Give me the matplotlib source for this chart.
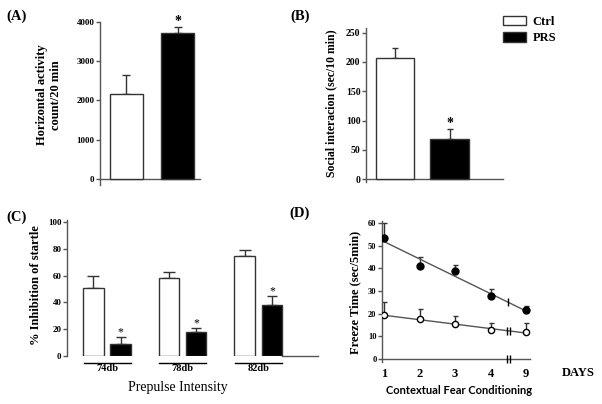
import numpy as np
import matplotlib
matplotlib.use("Agg")
import matplotlib.pyplot as plt

plt.rcParams['font.family'] = ['Liberation Serif', 'DejaVu Serif']
plt.rcParams['font.weight'] = 'bold'

groups = ['Ctrl', 'PRS']

# (A) horizontal activity
act_mean = [2170, 3720]
act_err = [480, 150]
act_ticks = [0, 1000, 2000, 3000, 4000]

# (B) social interaction
soc_mean = [206, 69]
soc_err = [17, 17]
soc_ticks = [0, 50, 100, 150, 200, 250]

# (C) prepulse inhibition
ppi_labels = ['74db', '78db', '82db']
ppi_ctrl = [51, 58, 75]
ppi_ctrl_err = [9, 5, 4]
ppi_prs = [9, 18, 38]
ppi_prs_err = [5, 3, 7]
ppi_ticks = [0, 20, 40, 60, 80, 100]

# (D) contextual fear conditioning
days = ['1', '2', '3', '4', '9']
fear_prs = [53.3, 41.0, 38.8, 27.8, 21.6]
fear_prs_err = [6.5, 4.0, 2.5, 3.0, 1.7]
fear_ctrl = [19.3, 17.6, 15.4, 12.8, 11.9]
fear_ctrl_err = [5.7, 4.4, 3.6, 3.2, 4.0]
fear_ticks = [0, 10, 20, 30, 40, 50, 60]

W, H = 602, 404
fig = plt.figure(figsize=(W / 100, H / 100), dpi=100)
axc = '#555555'


def px_axes(l, t, r, b):
    return fig.add_axes([l / W, 1 - b / H, (r - l) / W, (b - t) / H])


def style(ax, size):
    for s in ['top', 'right']:
        ax.spines[s].set_visible(False)
    for s in ['left', 'bottom']:
        ax.spines[s].set_color(axc)
        ax.spines[s].set_linewidth(1)
    ax.tick_params(axis='y', direction='out', length=3, width=1, color=axc,
                   labelsize=size, pad=1)
    ax.tick_params(axis='x', length=0)


def ftext(x, y, s, **kw):
    fig.text(x / W, 1 - y / H, s, **kw)


# ---------- (A)
axA = px_axes(100, 22, 200, 185)
xa = np.arange(len(groups))
axA.errorbar(xa, act_mean, yerr=[np.zeros(2), act_err], fmt='none', ecolor='#333333',
             elinewidth=1, capsize=3, capthick=1, zorder=2)
axA.bar(xa, act_mean, width=0.64, color=['white', 'black'], edgecolor='#333333',
        linewidth=1, zorder=3)
axA.set_xlim(-0.515, 1.43)
axA.set_ylim(-153, 4000)
axA.spines['bottom'].set_position(('data', 0))
axA.set_yticks(act_ticks)
axA.set_xticks([])
style(axA, 6.5)
axA.annotate('*', (xa[1], act_mean[1] + act_err[1]), xytext=(0, -1),
             textcoords='offset points', ha='center', va='bottom', fontsize=10,
             annotation_clip=False)
ftext(49, 95, 'Horizontal activity\ncount/20 min', rotation=90, ha='center',
      va='center', fontsize=9, multialignment='center')
ftext(17, 16, '(A)', ha='center', va='center', fontsize=10.5)

# ---------- (B)
axB = px_axes(366, 28, 503, 182)
xb = np.arange(len(groups))
axB.errorbar(xb, soc_mean, yerr=[np.zeros(2), soc_err], fmt='none', ecolor='#333333',
             elinewidth=1, capsize=2.5, capthick=1, zorder=2)
barsB = axB.bar(xb, soc_mean, width=0.70, color=['white', 'black'], edgecolor='#333333',
                linewidth=1, zorder=3)
axB.set_xlim(-0.532, 1.98)
axB.set_ylim(-5, 258)
axB.spines['bottom'].set_position(('data', 0))
axB.set_yticks(soc_ticks)
axB.set_xticks([])
style(axB, 7)
axB.annotate('*', (xb[1], soc_mean[1] + soc_err[1]), xytext=(0, -1),
             textcoords='offset points', ha='center', va='bottom', fontsize=10)
ftext(331, 103, 'Social interacion (sec/10 min)', rotation=90, ha='center',
      va='center', fontsize=8.5)
ftext(300, 16, '(B)', ha='center', va='center', fontsize=10.5)
fig.legend(barsB.patches, groups, loc='upper left', bbox_to_anchor=(503 / W, 1 - 16 / H),
           frameon=False, fontsize=9, handlelength=1.85, handleheight=0.75,
           handletextpad=0.5, labelspacing=0.35, borderpad=0, borderaxespad=0)

# ---------- (C)
axC = px_axes(67, 220, 318, 356)
xc = np.arange(len(ppi_labels))
off, bw = 0.18, 0.27
axC.errorbar(xc - off, ppi_ctrl, yerr=[np.zeros(3), ppi_ctrl_err], fmt='none',
             ecolor='#333333', elinewidth=1, capsize=4, capthick=1, zorder=2)
axC.errorbar(xc + off, ppi_prs, yerr=[np.zeros(3), ppi_prs_err], fmt='none',
             ecolor='#333333', elinewidth=1, capsize=3.5, capthick=1, zorder=2)
axC.bar(xc - off, ppi_ctrl, width=bw, color='white', edgecolor='#333333', linewidth=1,
        zorder=3)
axC.bar(xc + off, ppi_prs, width=bw, color='black', edgecolor='#333333', linewidth=1,
        zorder=3)
axC.set_xlim(-0.53, 2.79)
axC.set_ylim(0, 101.5)
axC.set_yticks(ppi_ticks)
style(axC, 6.5)
axC.spines['bottom'].set_bounds(xc[-1] + off + bw / 2, 2.79)
axC.set_xticks(xc)
axC.set_xticklabels(ppi_labels, fontsize=7.5)
axC.tick_params(axis='x', pad=6)
for g in xc:
    axC.plot([g - 0.31, g + 0.31], [-0.052, -0.052], color='black', lw=1,
             transform=axC.get_xaxis_transform(), clip_on=False)
for g in xc:
    axC.annotate('*', (g + off, ppi_prs[g] + ppi_prs_err[g]), xytext=(0, -1),
                 textcoords='offset points', ha='center', va='bottom', fontsize=8.5,
                 fontweight='normal')
ftext(36, 285, '% Inhibition of startle', rotation=90, ha='center', va='center',
      fontsize=9)
ftext(178, 388, 'Prepulse Intensity', ha='center', va='center', fontsize=10,
      fontweight='normal')
ftext(17, 217, '(C)', ha='center', va='center', fontsize=10.5)

# ---------- (D)
axD = px_axes(382, 221, 530, 362)
xd = np.arange(1, len(days) + 1)
axD.errorbar(xd, fear_prs, yerr=[np.zeros(5), fear_prs_err], fmt='none',
             ecolor='#333333', elinewidth=1, capsize=1.8, capthick=1, zorder=2)
axD.errorbar(xd, fear_ctrl, yerr=[np.zeros(5), fear_ctrl_err], fmt='none',
             ecolor='#333333', elinewidth=1, capsize=1.8, capthick=1, zorder=2)
for vals in [fear_prs, fear_ctrl]:
    k, b0 = np.polyfit(xd, vals, 1)
    axD.plot([xd[0], xd[-1]], [k * xd[0] + b0, k * xd[-1] + b0], color='#555555',
             lw=1, zorder=3)
axD.plot(xd, fear_prs, 'o', ms=5, mfc='black', mec='black', zorder=4)
axD.plot(xd, fear_ctrl, 'o', ms=4.5, mfc='white', mec='black', mew=1, zorder=4)
# axis break marks
xbrk = (xd[3] + xd[4]) / 2
kp, bp = np.polyfit(xd, fear_prs, 1)
kc, bc = np.polyfit(xd, fear_ctrl, 1)
axD.plot([xbrk], [kp * xbrk + bp], '|', color='black', ms=6, mew=1, zorder=5)
axD.plot([xbrk - 0.045, xbrk + 0.045], [kc * xbrk + bc] * 2, '|', color='black', ms=6,
         mew=1, zorder=5)
axD.plot([xbrk - 0.045, xbrk + 0.045], [0, 0], '|', color='black', ms=6, mew=1,
         zorder=5, clip_on=False)
axD.set_xlim(0.944, 5.11)
axD.set_ylim(-1.3, 60.9)
axD.spines['bottom'].set_position(('data', 0))
axD.set_yticks(fear_ticks)
style(axD, 6)
axD.set_xticks(xd)
axD.set_xticklabels(days, fontsize=9)
axD.tick_params(axis='x', pad=6.5)
ftext(578, 373, 'DAYS', ha='center', va='center', fontsize=9)
ftext(355, 292, 'Freeze Time (sec/5min)', rotation=90, ha='center', va='center',
      fontsize=9)
ftext(459, 391, 'Contextual Fear Conditioning', ha='center', va='center', fontsize=8,
      family=['Lato', 'DejaVu Sans'], fontweight='bold')
ftext(300, 213, '(D)', ha='center', va='center', fontsize=10.5)

fig.savefig('out.png', dpi=100)
